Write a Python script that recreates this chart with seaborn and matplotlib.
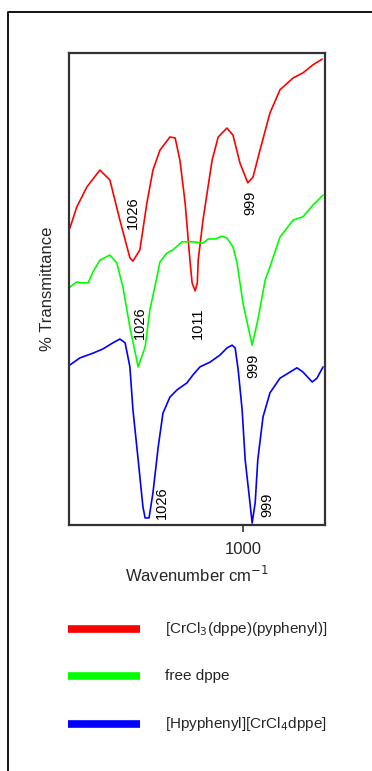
import numpy as np
import pandas as pd
import matplotlib
matplotlib.use("Agg")
import matplotlib.pyplot as plt
from matplotlib.lines import Line2D
import seaborn as sns

# ---------------- data ----------------
red_wn = [1039.8, 1038.2, 1035.9, 1032.9, 1030.6, 1028.3, 1026.0, 1025.3, 1023.7,
          1022.1, 1020.7, 1019.1, 1016.8, 1015.6, 1014.5, 1013.3, 1012.2, 1011.7,
          1011.0, 1010.5, 1010.3, 1009.2, 1007.1, 1005.7, 1003.7, 1002.3, 1000.7,
          998.9, 997.7, 996.1, 993.8, 991.5, 988.5, 986.2, 983.9, 981.8]
red_t = [62.9, 67.4, 71.6, 75.2, 73.1, 64.6, 56.6, 55.9, 58.3,
         68.2, 75.2, 79.4, 82.2, 82.0, 77.3, 68.2, 56.1, 51.3,
         49.6, 51.3, 56.1, 64.6, 77.3, 82.2, 84.1, 82.6, 76.7,
         72.5, 73.7, 79.4, 87.3, 92.2, 94.7, 95.8, 97.5, 98.7]

green_wn = [1039.8, 1038.2, 1037.0, 1035.6, 1034.5, 1032.9, 1030.6, 1029.0, 1027.6,
            1026.0, 1024.1, 1022.5, 1021.4, 1019.8, 1019.1, 1017.5, 1016.1, 1014.0,
            1011.5, 1009.2, 1008.0, 1006.4, 1004.8, 1003.7, 1002.3, 1001.4, 1000.0,
            997.9, 996.6, 994.9, 993.8, 991.5, 988.5, 986.2, 983.9, 981.6]
green_t = [50.4, 51.5, 51.3, 51.3, 53.6, 56.1, 57.2, 55.5, 50.4,
           41.9, 33.5, 37.7, 45.6, 52.5, 55.7, 57.6, 58.3, 60.0,
           60.0, 59.7, 60.6, 60.6, 61.2, 60.8, 58.9, 55.7, 47.0,
           38.1, 43.4, 51.9, 54.7, 61.0, 64.6, 65.3, 67.8, 69.9]

blue_wn = [1039.8, 1037.5, 1034.5, 1032.2, 1029.9, 1028.3, 1027.1, 1026.0, 1025.3,
           1024.1, 1023.0, 1022.5, 1021.6, 1020.7, 1019.5, 1018.4, 1016.8, 1015.2,
           1012.9, 1011.5, 1009.9, 1007.6, 1005.3, 1003.7, 1002.5, 1001.8, 1001.1,
           1000.2, 999.5, 998.4, 997.9, 997.2, 996.6, 995.4, 993.8, 991.5, 989.2,
           987.6, 986.2, 984.1, 983.0, 981.6]
blue_t = [33.9, 35.4, 36.4, 37.3, 38.6, 39.4, 38.6, 33.5, 24.4,
          13.8, 3.8, 1.5, 1.5, 6.8, 16.5, 23.7, 27.1, 28.6,
          30.1, 31.8, 33.5, 34.5, 36.0, 37.5, 38.1, 37.5, 32.8,
          24.4, 13.8, 4.7, 0.4, 4.7, 13.8, 22.9, 28.0, 31.1, 32.4,
          33.3, 32.4, 30.3, 31.1, 33.5]

series_names = ["[CrCl$_3$(dppe)(pyphenyl)]", "free dppe", "[Hpyphenyl][CrCl$_4$dppe]"]
series_colors = ["#ff0000", "#00ff00", "#0000ff"]

peak_labels = ["1026", "999", "1026", "1011", "999", "1026", "999"]
peak_wn = [1025.3, 998.2, 1023.7, 1010.3, 997.7, 1018.6, 994.5]
peak_t = [66.1, 68.2, 42.8, 42.8, 33.7, 4.7, 4.2]

x_ticks = [1000]
x_ticklabels = ["1000"]

# ---------------- build table ----------------
df = pd.concat([
    pd.DataFrame({"wn": red_wn, "t": red_t, "s": series_names[0]}),
    pd.DataFrame({"wn": green_wn, "t": green_t, "s": series_names[1]}),
    pd.DataFrame({"wn": blue_wn, "t": blue_t, "s": series_names[2]}),
], ignore_index=True)

sns.set_style("white")
plt.rcParams["font.family"] = ["Liberation Sans", "DejaVu Sans"]

W, H = 372, 771
fig = plt.figure(figsize=(W / 100, H / 100), dpi=100)
ax = fig.add_axes([69 / W, 1 - 525 / H, 256 / W, 472 / H])

sns.lineplot(data=df, x="wn", y="t", hue="s", hue_order=series_names,
             palette=series_colors, sort=False, estimator=None,
             linewidth=1.2, legend=False, ax=ax)

ax.set_xlim(1040, 981.15)
ax.set_ylim(0, 100)
ax.set_xticks(x_ticks)
ax.set_xticklabels(x_ticklabels, fontsize=12)
ax.set_yticks([])
ax.tick_params(axis="x", direction="out", length=5, width=1.2, color="#333333",
               bottom=True, pad=7)
for sp in ax.spines.values():
    sp.set_color("#333333")
    sp.set_linewidth(1.6)
    sp.set_visible(True)

ax.set_xlabel("Wavenumber cm$^{-1}$", fontsize=12, labelpad=6)
ax.set_ylabel("% Transmittance", fontsize=12, labelpad=10)

for lab, x, y in zip(peak_labels, peak_wn, peak_t):
    ax.text(x, y, lab, rotation=90, ha="center", va="center", fontsize=10.5,
            color="black")

# outer frame (left and top edges)
fig.add_artist(Line2D([8 / W, 8 / W, 1.0], [0.0, 1 - 12 / H, 1 - 12 / H],
                      transform=fig.transFigure, color="black", linewidth=1.3))

# legend below the plot
leg_y = [629, 676, 724]
for name, col, yy in zip(series_names, series_colors, leg_y):
    fig.add_artist(Line2D([68 / W, 140 / W], [1 - yy / H, 1 - yy / H],
                          transform=fig.transFigure, color=col, linewidth=5.5,
                          solid_capstyle="butt"))
    fig.text(165 / W, 1 - yy / H, name, ha="left", va="center", fontsize=11)

fig.savefig("out.png", dpi=100)
